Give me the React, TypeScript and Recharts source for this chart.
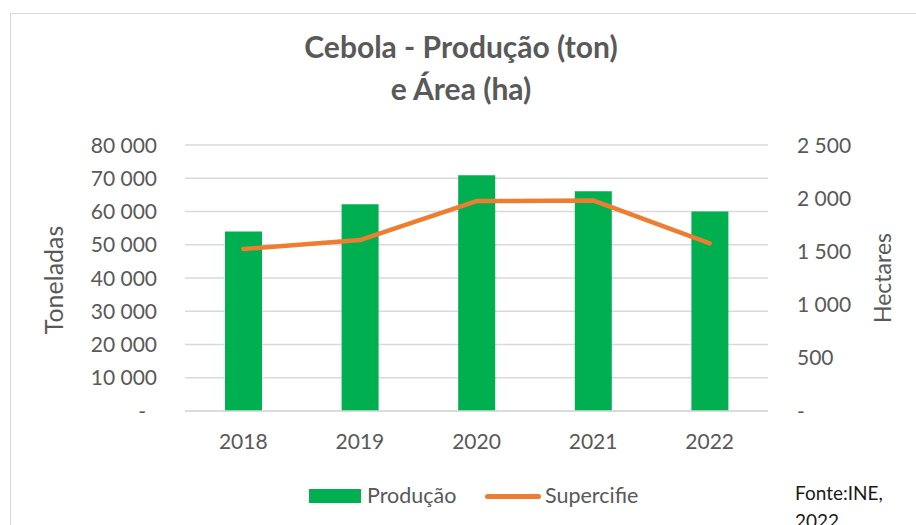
import React from 'react';
import { ComposedChart, Bar, Line, XAxis, YAxis, CartesianGrid } from 'recharts';

const years = ['2018', '2019', '2020', '2021', '2022'];
const producao = [54000, 62200, 70900, 66100, 60000];
const area = [1523, 1607, 1973, 1979, 1576];
const leftTicks = [0, 10000, 20000, 30000, 40000, 50000, 60000, 70000, 80000];
const rightTicks = [0, 500, 1000, 1500, 2000, 2500];

const data = years.map((y, i) => ({ year: y, producao: producao[i], area: area[i] }));

const FONT = 'Lato, "Liberation Sans", sans-serif';
const GRAY = '#595959';

const fmt = (v: number) => {
  if (v === 0) return '-';
  const s = String(Math.round(v));
  return s.replace(/\B(?=(\d{3})+(?!\d))/g, ' ');
};

const LeftTick = (props: any) => {
  const { x, y, payload } = props;
  const v = payload.value;
  return (
    <text x={v === 0 ? x - 11 : x} y={y} dy="0.36em" textAnchor="end" fill={GRAY} fontSize={21} fontFamily={FONT}>
      {fmt(v)}
    </text>
  );
};

const RightTick = (props: any) => {
  const { x, y, payload } = props;
  return (
    <text x={x} y={y} dy="0.36em" textAnchor="start" fill={GRAY} fontSize={21} fontFamily={FONT}>
      {fmt(payload.value)}
    </text>
  );
};

export default function App() {
  return (
    <div style={{ position: 'absolute', left: 0, top: 0, width: 916, height: 525, overflow: 'hidden', background: '#fff', fontFamily: FONT }}>
      <div style={{ position: 'absolute', left: 10, top: 13, width: 1000, height: 1000, border: '1.5px solid #d9d9d9' }} />
      <div style={{ position: 'absolute', left: 0, top: 25, width: 922, textAlign: 'center', color: GRAY, fontWeight: 700, fontSize: 30, lineHeight: '42px' }}>
        Cebola - Produção (ton)
        <br />
        e Área (ha)
      </div>
      <ComposedChart
        width={916}
        height={525}
        data={data}
        margin={{ top: 145, right: 88, bottom: 74, left: 125 }}
        style={{ position: 'absolute', left: 0, top: 0 }}
      >
        <CartesianGrid vertical={false} stroke="#d9d9d9" strokeWidth={1.5} yAxisId="left" />
        <XAxis
          dataKey="year"
          height={40}
          tickLine={false}
          tickSize={0}
          tickMargin={23}
          axisLine={{ stroke: '#d9d9d9', strokeWidth: 1.5 }}
          tick={{ fill: GRAY, fontSize: 21, fontFamily: FONT }}
        />
        <YAxis
          yAxisId="left"
          orientation="left"
          width={60}
          domain={[0, 80000]}
          ticks={leftTicks}
          interval={0}
          axisLine={false}
          tickLine={false}
          tickSize={0}
          tickMargin={28}
          tick={<LeftTick />}
        />
        <YAxis
          yAxisId="right"
          orientation="right"
          width={60}
          domain={[0, 2500]}
          ticks={rightTicks}
          interval={0}
          axisLine={false}
          tickLine={false}
          tickSize={0}
          tickMargin={29}
          tick={<RightTick />}
        />
        <Bar yAxisId="left" dataKey="producao" fill="#00B050" barSize={37} isAnimationActive={false} />
        <Line
          yAxisId="right"
          dataKey="area"
          type="linear"
          stroke="#ED7D31"
          strokeWidth={4.5}
          strokeLinecap="round"
          strokeLinejoin="round"
          dot={false}
          activeDot={false}
          isAnimationActive={false}
        />
      </ComposedChart>
      <div style={{ position: 'absolute', left: 53, top: 280, width: 0, height: 0 }}>
        <div style={{ position: 'absolute', transform: 'translate(-50%, -50%) rotate(-90deg)', color: GRAY, fontSize: 25, whiteSpace: 'nowrap' }}>
          Toneladas
        </div>
      </div>
      <div style={{ position: 'absolute', left: 882, top: 278, width: 0, height: 0 }}>
        <div style={{ position: 'absolute', transform: 'translate(-50%, -50%) rotate(-90deg)', color: GRAY, fontSize: 23, whiteSpace: 'nowrap' }}>
          Hectares
        </div>
      </div>
      <div style={{ position: 'absolute', left: 309, top: 489, width: 52, height: 14, background: '#00B050' }} />
      <div style={{ position: 'absolute', left: 367, top: 480, color: GRAY, fontSize: 21.5, lineHeight: '30px', whiteSpace: 'nowrap' }}>Produção</div>
      <div style={{ position: 'absolute', left: 485, top: 493.5, width: 56, height: 5, borderRadius: 3, background: '#ED7D31' }} />
      <div style={{ position: 'absolute', left: 545, top: 480, color: GRAY, fontSize: 21.5, lineHeight: '30px', whiteSpace: 'nowrap' }}>Supercifie</div>
      <div style={{ position: 'absolute', left: 795, top: 479, color: '#1a1a1a', fontSize: 19, lineHeight: '28px', whiteSpace: 'nowrap' }}>
        Fonte:INE,
        <br />
        2022
      </div>
    </div>
  );
}
